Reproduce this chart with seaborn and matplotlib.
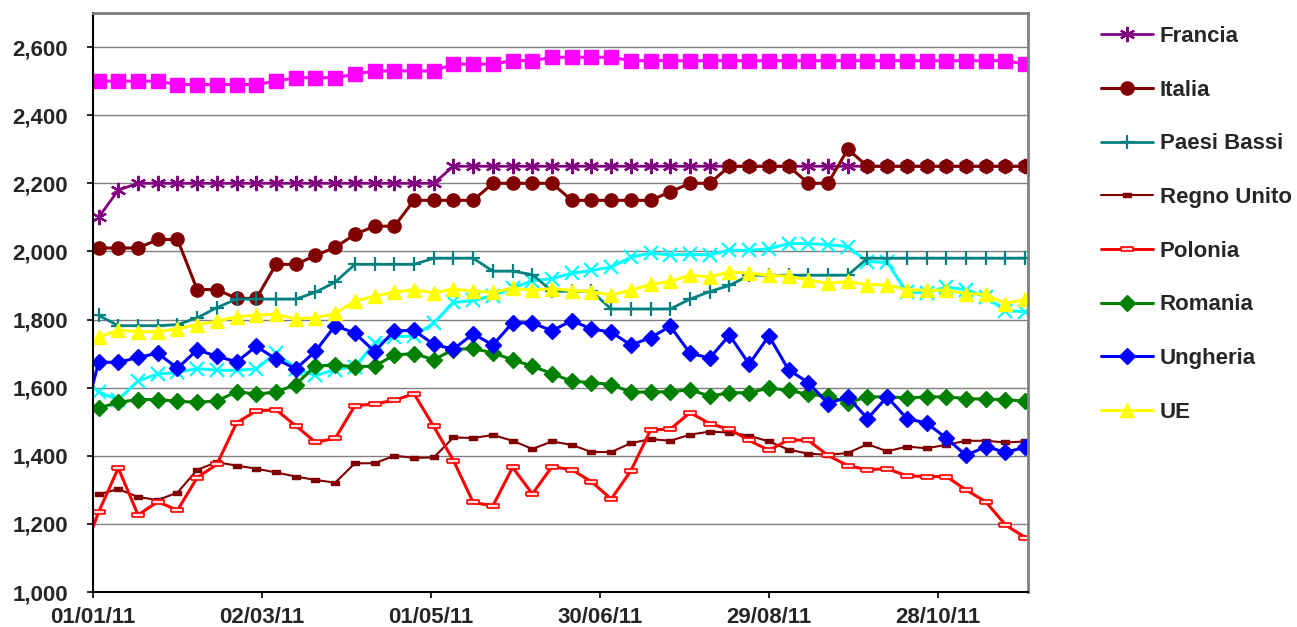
import pandas as pd
import matplotlib.pyplot as plt
import matplotlib.dates as mdates
from matplotlib.ticker import FuncFormatter
import seaborn as sns

# weekly readings, Monday 03/01/11 to Monday 28/11/11
weeks = pd.date_range('2011-01-03', periods=48, freq='7D')
week_before = pd.Timestamp('2010-12-27')  # only partly visible (clipped at axis)

fuchsia_vals = [2500, 2500, 2500, 2500, 2490, 2490, 2490, 2490, 2490, 2500,
                2510, 2510, 2510, 2520, 2530, 2530, 2530, 2530, 2550, 2550,
                2550, 2560, 2560, 2570, 2570, 2570, 2570, 2560, 2560, 2560,
                2560, 2560, 2560, 2560, 2560, 2560, 2560, 2560, 2560, 2560,
                2560, 2560, 2560, 2560, 2560, 2560, 2560, 2550]
aqua_prev = 1640
aqua_vals = [1587, 1565, 1620, 1640, 1645, 1656, 1651, 1651, 1655, 1702,
             1655, 1636, 1653, 1662, 1730, 1750, 1751, 1790, 1850, 1856,
             1870, 1893, 1914, 1920, 1936, 1944, 1954, 1983, 1995, 1990,
             1991, 1990, 2004, 2003, 2008, 2023, 2023, 2020, 2014, 1970,
             1968, 1880, 1879, 1895, 1888, 1866, 1826, 1823]
francia = [2100, 2180] + [2200] * 16 + [2250] * 30
italia = [2010, 2010, 2010, 2035, 2035, 1888, 1888, 1862, 1862, 1962,
          1962, 1988, 2012, 2050, 2074, 2074, 2150, 2150, 2150, 2150,
          2200, 2200, 2200, 2200, 2150, 2150, 2150, 2150, 2150, 2175,
          2200, 2200, 2250, 2250, 2250, 2250, 2200, 2200, 2300, 2250,
          2250, 2250, 2250, 2250, 2250, 2250, 2250, 2250]
paesi_bassi = [1812, 1782, 1782, 1782, 1785, 1805, 1835, 1860, 1860, 1860,
               1860, 1880, 1910, 1962, 1962, 1962, 1962, 1980, 1980, 1980,
               1942, 1942, 1932, 1883, 1883, 1883, 1831, 1831, 1831, 1831,
               1860, 1882, 1900, 1930, 1930, 1930, 1930, 1930, 1930, 1980,
               1980, 1980, 1980, 1980, 1980, 1980, 1980, 1980]
regno_unito = [1287, 1302, 1279, 1270, 1292, 1359, 1381, 1371, 1362, 1351,
               1339, 1329, 1321, 1378, 1378, 1400, 1394, 1395, 1454, 1452,
               1461, 1444, 1420, 1442, 1432, 1411, 1411, 1437, 1449, 1444,
               1462, 1471, 1468, 1459, 1442, 1418, 1406, 1403, 1408, 1434,
               1413, 1427, 1422, 1432, 1444, 1444, 1439, 1442]
polonia_prev = 1080
polonia = [1235, 1364, 1226, 1265, 1240, 1336, 1375, 1497, 1532, 1535,
           1488, 1440, 1451, 1547, 1552, 1563, 1582, 1486, 1386, 1263,
           1253, 1366, 1288, 1368, 1359, 1324, 1273, 1356, 1476, 1478,
           1527, 1494, 1478, 1445, 1416, 1447, 1445, 1401, 1371, 1359,
           1362, 1341, 1339, 1339, 1300, 1265, 1197, 1160]
romania = [1540, 1557, 1565, 1565, 1560, 1557, 1561, 1588, 1581, 1587,
           1609, 1664, 1666, 1662, 1663, 1696, 1700, 1682, 1712, 1715,
           1702, 1682, 1663, 1641, 1619, 1615, 1609, 1587, 1587, 1588,
           1594, 1575, 1585, 1585, 1599, 1592, 1580, 1575, 1556, 1573,
           1573, 1570, 1573, 1573, 1568, 1566, 1565, 1560]
ungheria_prev = 1450
ungheria = [1675, 1674, 1689, 1701, 1657, 1711, 1692, 1676, 1721, 1684,
            1655, 1707, 1782, 1760, 1706, 1767, 1768, 1727, 1713, 1758,
            1725, 1791, 1790, 1767, 1797, 1772, 1763, 1725, 1747, 1780,
            1701, 1687, 1754, 1669, 1752, 1652, 1615, 1553, 1573, 1509,
            1573, 1509, 1496, 1452, 1401, 1427, 1410, 1425]
ue = [1748, 1769, 1764, 1764, 1773, 1785, 1795, 1808, 1813, 1815,
      1802, 1805, 1818, 1854, 1869, 1880, 1888, 1878, 1890, 1883,
      1880, 1892, 1886, 1891, 1885, 1882, 1872, 1886, 1903, 1912,
      1930, 1925, 1940, 1936, 1930, 1927, 1916, 1906, 1912, 1902,
      1902, 1887, 1886, 1886, 1876, 1874, 1847, 1859]

sns.set_style('white')
plt.rcParams['font.family'] = ['Liberation Sans', 'DejaVu Sans']
plt.rcParams['font.weight'] = 'bold'

flat_rect = [(-1, -0.42), (1, -0.42), (1, 0.42), (-1, 0.42), (-1, -0.42)]

fig = plt.figure(figsize=(12.97, 6.27), dpi=100)
ax = fig.add_axes([93 / 1297, 35 / 627, 935 / 1297, 579 / 627])

# (label, prev point, values, colour, line width, marker style)
series = [
    ('_nolegend_', None, fuchsia_vals, '#FF00FF', 2.2,
     dict(marker='s', ms=9.5, mfc='#FF00FF', mec='#FF00FF', mew=1)),
    ('_nolegend_', aqua_prev, aqua_vals, '#00FFFF', 2.2,
     dict(marker='x', ms=10, mfc='#00FFFF', mec='#00FFFF', mew=1.6)),
    ('Francia', None, francia, '#800080', 2.0,
     dict(marker=(6, 2, 0), ms=11, mfc='#800080', mec='#800080', mew=1.6)),
    ('Italia', None, italia, '#800000', 2.2,
     dict(marker='o', ms=9.5, mfc='#800000', mec='#800000', mew=1)),
    ('Paesi Bassi', None, paesi_bassi, '#008080', 2.0,
     dict(marker='+', ms=10, mfc='#008080', mec='#008080', mew=1.6)),
    ('Regno Unito', None, regno_unito, '#800000', 1.5,
     dict(marker=flat_rect, ms=6, mfc='#800000', mec='#800000', mew=1)),
    ('Polonia', polonia_prev, polonia, '#FF0000', 2.2,
     dict(marker=flat_rect, ms=8, mfc='#FFE0E0', mec='#FF0000', mew=1.2)),
    ('Romania', None, romania, '#008000', 2.2,
     dict(marker='D', ms=8, mfc='#008000', mec='#008000', mew=1)),
    ('Ungheria', ungheria_prev, ungheria, '#0000FF', 2.2,
     dict(marker='D', ms=8, mfc='#0000FF', mec='#0000FF', mew=1)),
    ('UE', None, ue, '#FFFF00', 2.2,
     dict(marker='^', ms=10, mfc='#FFFF00', mec='#FFFF00', mew=1)),
]

for label, prev, vals, color, lw, mk in series:
    x = list(weeks)
    y = list(vals)
    if prev is not None:
        x = [week_before] + x
        y = [prev] + y
    sns.lineplot(x=x, y=y, ax=ax, color=color, linewidth=lw, label=label,
                 sort=False, errorbar=None, **mk)

if ax.get_legend() is not None:
    ax.get_legend().remove()

ax.set_xlim(pd.Timestamp('2011-01-01'), pd.Timestamp('2011-11-29'))
ax.set_ylim(1000, 2700)
ax.set_yticks(range(1000, 2700, 200))
ax.yaxis.set_major_formatter(FuncFormatter(lambda v, p: f'{v:,.0f}'))
ax.set_xticks(pd.date_range('2011-01-01', periods=6, freq='60D'))
ax.xaxis.set_major_formatter(mdates.DateFormatter('%d/%m/%y'))
ax.set_xlabel('')
ax.set_ylabel('')

ax.grid(axis='y', color='#808080', linewidth=1.0)
ax.grid(axis='x', visible=False)
ax.set_axisbelow(True)
ax.tick_params(axis='both', which='major', direction='out', length=4,
               width=1.2, color='black', labelsize=16, bottom=True, left=True)
ax.tick_params(axis='y', pad=14)
ax.tick_params(axis='x', pad=7)
for lab in ax.get_xticklabels() + ax.get_yticklabels():
    lab.set_fontweight('bold')

ax.spines['left'].set_color('black')
ax.spines['bottom'].set_color('black')
ax.spines['left'].set_linewidth(1.5)
ax.spines['bottom'].set_linewidth(1.5)
for side in ['top', 'right']:
    ax.spines[side].set_color('#808080')
    ax.spines[side].set_linewidth(2)

handles, labels = ax.get_legend_handles_labels()
fig.legend(handles, labels, loc='upper left',
           bbox_to_anchor=(1101 / 1297, 1 - 26 / 627), frameon=False,
           borderpad=0, borderaxespad=0, handlelength=2.35,
           handletextpad=0.3, labelspacing=1.47,
           prop={'size': 16, 'weight': 'bold'})

fig.savefig('out.png', dpi=100)
